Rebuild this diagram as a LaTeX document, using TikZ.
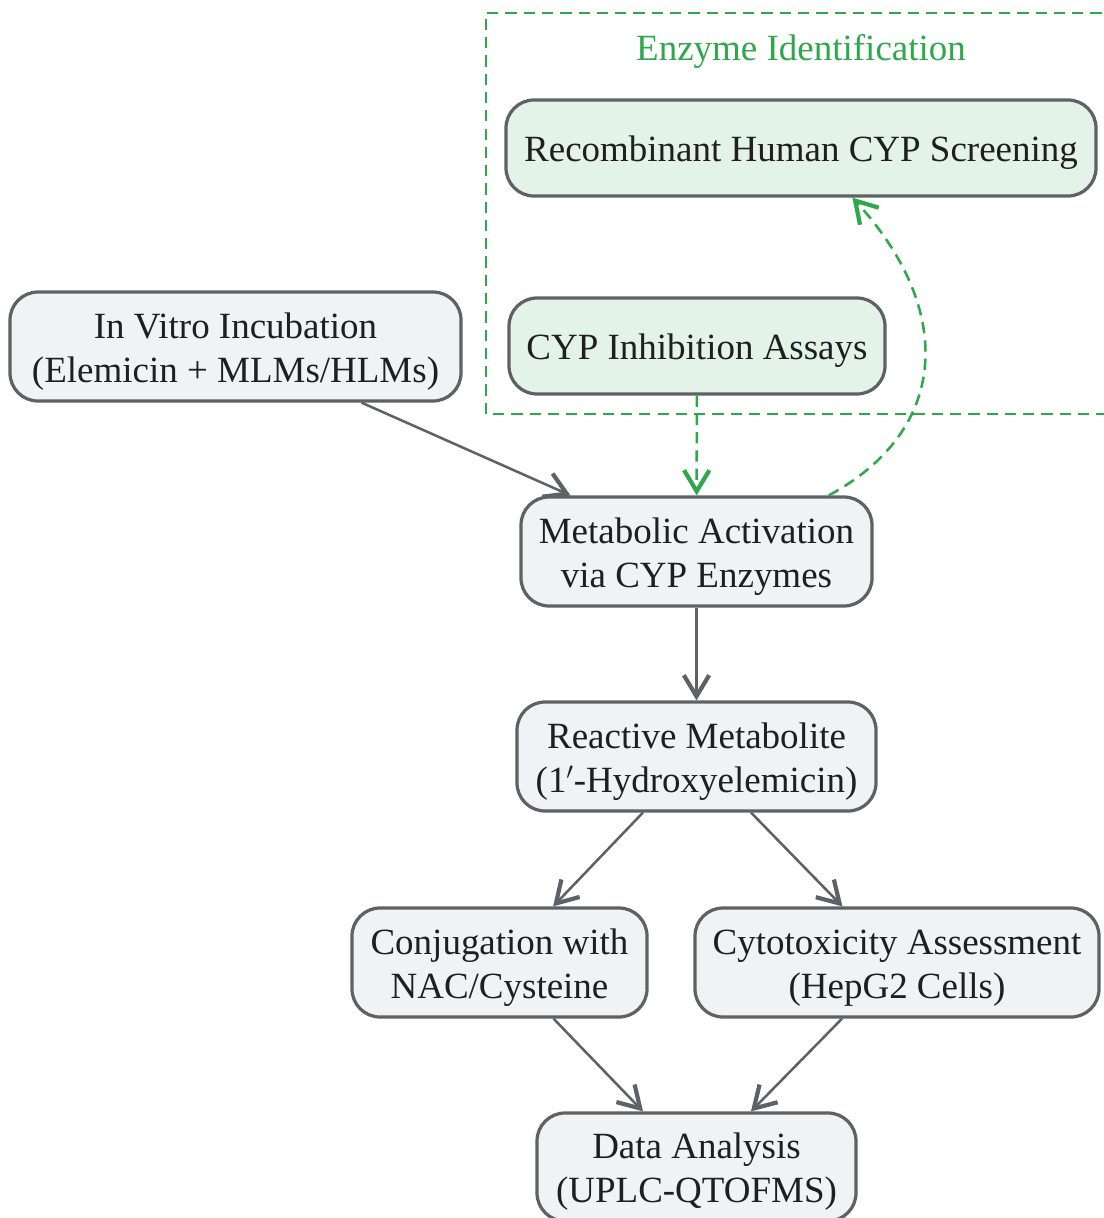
\documentclass[tikz,border=0pt]{standalone}
\usepackage{fontspec}
\setmainfont{Liberation Serif}
\usetikzlibrary{arrows.meta}
\definecolor{edgegray}{HTML}{5F6166}
\definecolor{boxfill}{HTML}{F1F2F4}
\definecolor{greenfill}{HTML}{E4F3E7}
\definecolor{enzgreen}{HTML}{2EA84B}
\definecolor{ink}{HTML}{1F1F1F}

\begin{document}
\begin{tikzpicture}[x=0.025cm,y=-0.025cm,
  font=\fontsize{26.3}{31.3}\selectfont,
  every node/.style={execute at begin node={\rule[-5.8pt]{0pt}{31pt}}},
  twoline/.style={execute at begin node={\rule[-5.8pt]{0pt}{62.3pt}}},
  stage/.style 2 args={draw=edgegray,fill=boxfill,line width=2.3pt,
    rounded corners=0.7cm,align=center,text=ink,inner sep=2pt,
    minimum width=#1*0.025cm,minimum height=#2*0.025cm},
  flow/.style={draw=edgegray,line width=1.8pt,
    -{Straight Barb[length=15pt,width=18pt,line width=3pt]}},
  enzflow/.style={flow,draw=enzgreen,dash pattern=on 8pt off 5pt}]
 \useasboundingbox (0,0) rectangle (1104,1218);
 % enzyme box, open to the right
 \draw[enzgreen,line width=1.8pt,dash pattern=on 8pt off 5pt]
  (1120,13) -- (486,13) -- (486,414) -- (1120,414);
 \node[text=enzgreen] (enztitle) at (801,47) {Enzyme Identification};
 \node[stage={590}{96},fill=greenfill] (recomb) at (801,148)
  {Recombinant Human CYP Screening};
 \node[stage={376}{96},fill=greenfill] (cypinh) at (697,346)
  {CYP Inhibition Assays};
 \node[stage={451}{109},twoline] (invitro) at (235.5,346.5)
  {In Vitro Incubation\\(Elemicin + MLMs/HLMs)};
 \node[stage={351}{109},twoline] (meta) at (696.5,551.5)
  {Metabolic Activation\\via CYP Enzymes};
 \node[stage={359}{109},twoline] (reactive) at (696.5,756.5)
  {Reactive Metabolite\\(1$'$-Hydroxyelemicin)};
 \node[stage={295}{109},twoline] (conj) at (499.5,962.5)
  {Conjugation with\\NAC/Cysteine};
 \node[stage={404}{109},twoline] (cyto) at (897,962.5)
  {Cytotoxicity Assessment\\(HepG2 Cells)};
 \node[stage={319}{108},twoline] (data) at (696.5,1167)
  {Data Analysis\\(UPLC-QTOFMS)};
 \foreach \a/\b in {invitro/meta, meta/reactive, reactive/conj,
   reactive/cyto, conj/data, cyto/data}
  \draw[flow] (\a) -- (\b);
 \draw[enzflow] (cypinh) -- (meta);
 \draw[enzflow] (meta.23) .. controls (950,430) and (955,310) .. (recomb.-44);
\end{tikzpicture}
\end{document}
